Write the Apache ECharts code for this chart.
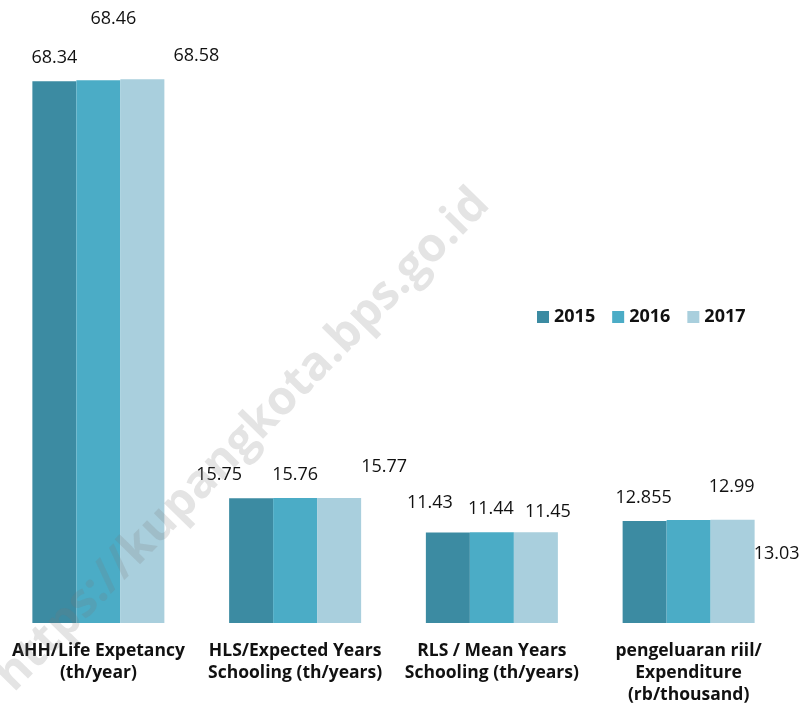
<!DOCTYPE html>
<html>
<head>
<meta charset="utf-8">
<script src="https://cdn.jsdelivr.net/npm/echarts@6/dist/echarts.min.js"></script>
<style>
html,body{margin:0;padding:0;background:#fff;}
#chart{width:802px;height:712px;}
</style>
</head>
<body>
<div id="chart"></div>
<script>
const categories = [
  "AHH/Life Expetancy\n(th/year)",
  "HLS/Expected Years\nSchooling (th/years)",
  "RLS / Mean Years\nSchooling (th/years)",
  "pengeluaran riil/\nExpenditure\n(rb/thousand)"
];
const seriesNames = ["2015", "2016", "2017"];
const values2015 = [68.34, 15.75, 11.43, 12.855];
const values2016 = [68.46, 15.76, 11.44, 12.99];
const values2017 = [68.58, 15.77, 11.45, 13.03];
const watermarkText = "https://kupangkota.bps.go.id";

// label placement (manual positions in the original)
const labelOffsets = [
  [[0, -23], [-32, -23], [-18, -30], [-1, -23]],
  [[15, -61], [0, -23], [-1, -23], [43, -33]],
  [[54, -23], [45, -31], [12, -20], [44, 34]]
];
const colors = ["#3c8ba2", "#4bacc6", "#a9cfdd"];
const FONT = "Open Sans";

const allValues = [values2015, values2016, values2017];
const series = allValues.map((vals, si) => ({
  name: seriesNames[si],
  type: "bar",
  barWidth: 44,
  barGap: "0%",
  itemStyle: { color: colors[si] },
  data: vals.map((v, ci) => ({
    value: v,
    label: { offset: labelOffsets[si][ci] }
  })),
  label: {
    show: true,
    position: "top",
    distance: 0,
    verticalAlign: "middle",
    color: "#111",
    fontFamily: FONT,
    fontSize: 18
  }
}));

const chart = echarts.init(document.getElementById("chart"));
chart.setOption({
  animation: false,
  color: colors,
  grid: { left: 0, right: 15, top: 68, bottom: 89, containLabel: false },
  legend: {
    data: seriesNames,
    left: 532,
    top: 303,
    itemWidth: 12,
    itemHeight: 12,
    itemGap: 17,
    icon: "rect",
    textStyle: { fontFamily: FONT, fontWeight: "bold", fontSize: 18, color: "#111" }
  },
  xAxis: {
    type: "category",
    data: categories,
    axisLine: { show: false },
    axisTick: { show: false },
    axisLabel: {
      interval: 0,
      margin: 17,
      fontFamily: FONT,
      fontWeight: "bold",
      fontSize: 17.5,
      lineHeight: 22,
      color: "#111"
    }
  },
  yAxis: {
    type: "value",
    min: 0,
    max: 70,
    show: false,
    splitLine: { show: false }
  },
  series: series,
  graphic: [{
    type: "text",
    x: 243,
    y: 440,
    rotation: Math.PI / 4 + 0.01,
    z: 100,
    style: {
      text: watermarkText,
      fontFamily: FONT,
      fontWeight: "bold",
      fontSize: 47,
      fill: "rgba(120,120,120,0.2)",
      align: "center",
      verticalAlign: "middle"
    }
  }]
});
</script>
</body>
</html>
